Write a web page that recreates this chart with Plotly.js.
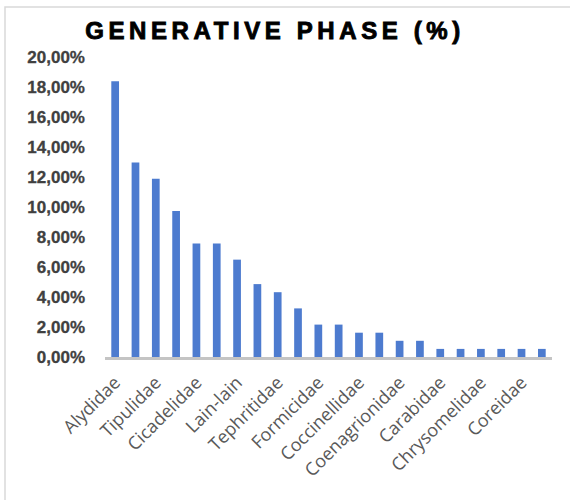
<!DOCTYPE html>
<html>
<head>
<meta charset="utf-8">
<script src="https://cdn.plot.ly/plotly-3.0.1.min.js"></script>
<style>
  html, body { margin: 0; padding: 0; background: #ffffff; }
  #chart { width: 570px; height: 500px; }
  /* wide-tracked, heavy heading */
  .gtitle { letter-spacing: 4.6px; stroke: #000000; stroke-width: 0.9px; }
  /* slightly heavier value labels */
  .ytick text { stroke: #404040; stroke-width: 0.3px; }
</style>
</head>
<body>
<div id="chart"></div>
<script>
// Share of each family during the generative phase (%)
const values = [18.38, 12.97, 11.89, 9.73, 7.57, 7.57, 6.49, 4.86, 4.32, 3.24, 2.16,
                2.16, 1.62, 1.62, 1.08, 1.08, 0.54, 0.54, 0.54, 0.54, 0.54, 0.54];

// Only every second bar carries a family name on the axis
const labelPositions = [0, 2, 4, 6, 8, 10, 12, 14, 16, 18, 20];
const labels = ['Alydidae', 'Tipulidae', 'Cicadelidae', 'Lain-lain', 'Tephritidae',
                'Formicidae', 'Coccinellidae', 'Coenagrionidae', 'Carabidae',
                'Chrysomelidae', 'Coreidae'];

const yTicks = [0, 2, 4, 6, 8, 10, 12, 14, 16, 18, 20];
const yTickText = ['0,00%', '2,00%', '4,00%', '6,00%', '8,00%', '10,00%',
                   '12,00%', '14,00%', '16,00%', '18,00%', '20,00%'];

const W = 570, H = 500;
const M = { l: 105, r: 18, t: 57, b: 143 };
const pw = W - M.l - M.r, ph = H - M.t - M.b;
// pixel -> paper coordinates for the outer frame
const px = x => (x - M.l) / pw;
const py = y => (H - M.b - y) / ph;

const trace = {
  type: 'bar',
  x: values.map((_, i) => i),
  y: values,
  marker: { color: '#4d7bcf', line: { width: 0 } },
  hoverinfo: 'skip'
};

const layout = {
  width: W,
  height: H,
  margin: M,
  paper_bgcolor: '#ffffff',
  plot_bgcolor: '#ffffff',
  showlegend: false,
  bargap: 0.62,
  title: {
    text: 'GENERATIVE PHASE (%)',
    font: { family: 'Liberation Sans, Arial, sans-serif', size: 24, weight: 'bold', color: '#000000' },
    xref: 'container', yref: 'container',
    x: 275 / W, y: 1 - 31 / H,
    xanchor: 'center', yanchor: 'middle'
  },
  xaxis: {
    range: [-0.5, values.length - 0.5],
    tickmode: 'array',
    tickvals: labelPositions,
    ticktext: labels,
    tickangle: -45,
    ticks: '',
    ticklabelstandoff: 5,
    showgrid: false,
    zeroline: false,
    showline: true,
    linecolor: '#c4c4c4',
    linewidth: 3,
    tickfont: { family: 'Open Sans, sans-serif', size: 18, color: '#595959' },
    fixedrange: true
  },
  yaxis: {
    range: [0, 20],
    tickmode: 'array',
    tickvals: yTicks,
    ticktext: yTickText,
    ticks: '',
    showgrid: false,
    zeroline: false,
    showline: false,
    ticklabelstandoff: 19,
    tickfont: { family: 'Liberation Sans, Arial, sans-serif', size: 17, weight: 'bold', color: '#404040' },
    fixedrange: true
  },
  shapes: [{
    type: 'rect', xref: 'paper', yref: 'paper',
    x0: px(5), x1: px(W + 10), y0: py(H + 10), y1: py(7),
    line: { color: '#d9d9d9', width: 1.5 },
    fillcolor: 'rgba(0,0,0,0)',
    layer: 'below'
  }]
};

Plotly.newPlot('chart', [trace], layout, { displayModeBar: false, staticPlot: true });
</script>
</body>
</html>
